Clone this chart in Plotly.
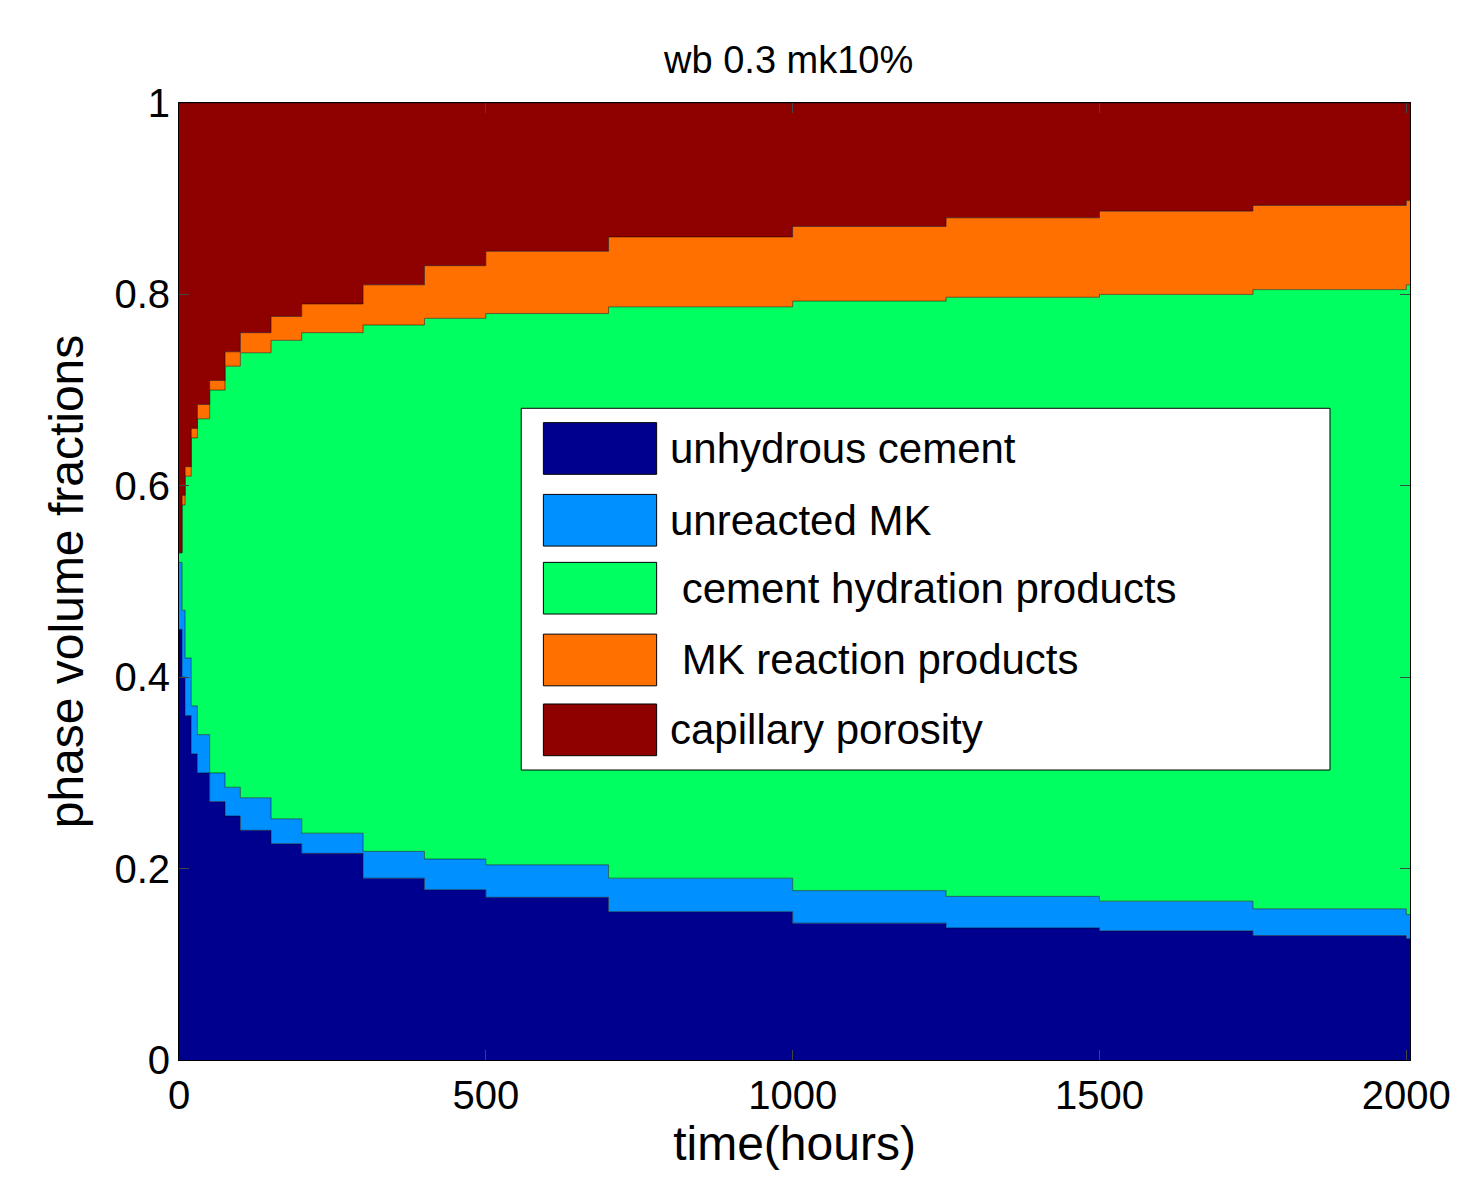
import plotly.graph_objects as go

t = [0, 5, 10, 20, 30, 50, 75, 100, 150, 200, 300, 400, 500, 700, 1000, 1250, 1500, 1750, 2000, 2006]
cem_top = [0.45, 0.40, 0.36, 0.32, 0.30, 0.27, 0.255, 0.24, 0.226, 0.216, 0.19, 0.178, 0.17, 0.155, 0.143, 0.138, 0.135, 0.13, 0.127, 0.127]
mk_top = [0.52, 0.47, 0.42, 0.37, 0.34, 0.30, 0.285, 0.274, 0.252, 0.237, 0.218, 0.21, 0.204, 0.19, 0.177, 0.171, 0.166, 0.158, 0.152, 0.152]
hyd_top = [0.53, 0.58, 0.61, 0.65, 0.67, 0.70, 0.725, 0.739, 0.752, 0.76, 0.768, 0.775, 0.78, 0.787, 0.793, 0.797, 0.80, 0.805, 0.81, 0.81]
mkp_top = [0.53, 0.59, 0.62, 0.66, 0.685, 0.71, 0.74, 0.76, 0.777, 0.79, 0.81, 0.83, 0.845, 0.86, 0.871, 0.88, 0.887, 0.893, 0.898, 0.898]

names = ["unhydrous cement", "unreacted MK", " cement hydration products", " MK reaction products", "capillary porosity"]
colors = ["#00008F", "#0090FF", "#00FF60", "#FF7000", "#8F0000"]
tops = [cem_top, mk_top, hyd_top, mkp_top, [1.0] * len(t)]

fig = go.Figure()
prev = [0.0] * len(t)
for name, col, top in zip(names, colors, tops):
    vals = [a - b for a, b in zip(top, prev)]
    fig.add_trace(go.Scatter(x=t, y=vals, stackgroup="s", line=dict(shape="hv", width=0.5, color="black"),
                             fillcolor=col, mode="lines", name=name, showlegend=False))
    prev = top

# manual legend
fig.add_shape(type="rect", xref="paper", yref="paper", x0=0.278, x1=0.935, y0=0.303, y1=0.681,
              fillcolor="white", line=dict(color="black", width=1))
ys = [0.639, 0.564, 0.493, 0.418, 0.345]
for name, col, yc in zip(names, colors, ys):
    fig.add_shape(type="rect", xref="paper", yref="paper", x0=0.296, x1=0.388, y0=yc - 0.027, y1=yc + 0.027,
                  fillcolor=col, line=dict(color="black", width=1))
    fig.add_annotation(xref="paper", yref="paper", x=0.397, y=yc, text=name, showarrow=False,
                       xanchor="left", yanchor="middle", font=dict(size=42, color="black"))

fig.update_layout(
    width=1473, height=1197, plot_bgcolor="white", paper_bgcolor="white",
    margin=dict(l=171, r=71, t=95, b=145),
    font=dict(family="Liberation Sans, Arial", size=40, color="black"),
    title=dict(text="wb 0.3 mk10%", x=0.53, xanchor="center", y=0.968, font=dict(size=38)),
)
fig.update_xaxes(range=[0, 2006], tickvals=[0, 500, 1000, 1500, 2000], ticks="inside", mirror="ticks",
                 showline=True, linecolor="black", showgrid=False, zeroline=False, ticklen=10,
                 title=dict(text="time(hours)", standoff=5))
fig.update_yaxes(range=[0, 1], tickvals=[0, 0.2, 0.4, 0.6, 0.8, 1], ticktext=["0", "0.2", "0.4", "0.6", "0.8", "1"],
                 ticks="inside", mirror="ticks", showline=True, linecolor="black", showgrid=False, zeroline=False,
                 ticklen=10, title=dict(text="phase volume fractions", standoff=15))
fig.write_html("out.html")
